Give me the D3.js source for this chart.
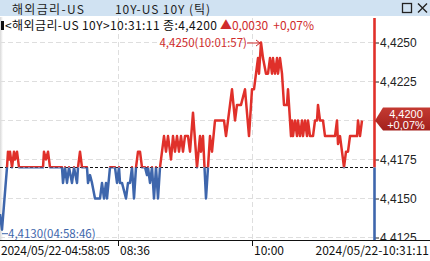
<!DOCTYPE html>
<html>
<head>
<meta charset="utf-8">
<script src="https://cdn.jsdelivr.net/npm/d3@7"></script>
<style>
  html, body { margin: 0; padding: 0; background: #fff; }
  svg { display: block; font-family: "Noto Sans CJK KR", "Noto Sans", sans-serif; }
</style>
</head>
<body>
<svg id="chart" width="430" height="261"></svg>
<script>
// tick sequence number (vertices of the tick line) and price at that tick
var tickNo = [0, 2, 7, 8, 9, 10, 12, 14, 15, 17, 19, 43, 44, 46, 48, 50, 62, 63, 65, 67,
    69, 72, 74, 77, 78, 80, 82, 87, 88, 90, 92, 95, 100, 102, 104, 106, 107, 110, 115, 117,
    119, 120, 122, 126, 128, 130, 132, 134, 136, 138, 140, 142, 145, 147, 148, 150, 152, 154, 156, 158,
    160, 162, 164, 166, 168, 170, 171, 173, 175, 177, 179, 181, 183, 185, 188, 190, 193, 197, 200, 201,
    203, 206, 210, 212, 215, 224, 226, 228, 232, 235, 237, 241, 245, 249, 252, 254, 256, 258, 259, 261,
    263, 266, 268, 270, 272, 273, 275, 277, 278, 280, 282, 284, 287, 288, 289, 291, 292, 293, 295, 297,
    298, 300, 302, 303, 305, 307, 308, 310, 313, 315, 317, 318, 320, 323, 325, 335, 337, 338, 340, 342,
    344, 346, 348, 350, 357, 358, 360, 362];
var price = [4.4140, 4.4130, 4.4170, 4.4180, 4.4175, 4.4180, 4.4170, 4.4180, 4.4175, 4.4180, 4.4170, 4.4170, 4.4180, 4.4175, 4.4180, 4.4170, 4.4170, 4.4160, 4.4170, 4.4160,
    4.4170, 4.4160, 4.4170, 4.4160, 4.4170, 4.4180, 4.4170, 4.4170, 4.4160, 4.4165, 4.4160, 4.4150, 4.4150, 4.4160, 4.4150, 4.4160, 4.4150, 4.4170, 4.4170, 4.4160,
    4.4170, 4.4160, 4.4160, 4.4150, 4.4160, 4.4160, 4.4170, 4.4150, 4.4170, 4.4180, 4.4180, 4.4170, 4.4170, 4.4165, 4.4170, 4.4160, 4.4170, 4.4150, 4.4170, 4.4150,
    4.4170, 4.4180, 4.4190, 4.4180, 4.4190, 4.4180, 4.4175, 4.4190, 4.4180, 4.4190, 4.4180, 4.4190, 4.4180, 4.4190, 4.4190, 4.4180, 4.4205, 4.4170, 4.4190, 4.4180,
    4.4190, 4.4150, 4.4190, 4.4180, 4.4200, 4.4200, 4.4190, 4.4200, 4.4220, 4.4200, 4.4210, 4.4210, 4.4220, 4.4190, 4.4220, 4.4220, 4.4230, 4.4240, 4.4230, 4.4250,
    4.4240, 4.4230, 4.4230, 4.4240, 4.4230, 4.4240, 4.4230, 4.4240, 4.4230, 4.4240, 4.4230, 4.4210, 4.4210, 4.4220, 4.4210, 4.4190, 4.4200, 4.4190, 4.4200, 4.4190,
    4.4200, 4.4190, 4.4200, 4.4190, 4.4200, 4.4190, 4.4200, 4.4190, 4.4190, 4.4200, 4.4200, 4.4210, 4.4200, 4.4200, 4.4190, 4.4190, 4.4200, 4.4185, 4.4190, 4.4180,
    4.4170, 4.4180, 4.4180, 4.4190, 4.4190, 4.4200, 4.4190, 4.4200];

var prevClose = 4.4170;
var lastPrice = 4.4200;
var yTicks = [4.4125, 4.4150, 4.4175, 4.4200, 4.4225, 4.4250];
var xTickNo = [118, 252];
var xTickLabels = ["08:36", "10:00"];
var startLabel = "2024/05/22-04:58:05";
var endLabel = "2024/05/22-10:31:11";
var highLabel = "4,4250(10:01:57)";
var lowLabel = "4,4130(04:58:46)";

var red = "#e0302a", blue = "#3e66ac", redText = "#d02c2c";
var svg = d3.select("#chart");
var defs = svg.append("defs");
var plotL = 0, plotR = 374, plotT = 18, plotB = 240;

var x = d3.scaleLinear().domain([0, 374]).range([plotL, plotR]);
var y = d3.scaleLinear().domain([4.4125, 4.4250]).range([237.5, 42.5]);
var comma = function (v) { return d3.format(".4f")(v).replace(".", ","); };

// title bar
svg.append("rect").attr("x", 0).attr("y", 0).attr("width", 430).attr("height", 16).attr("fill", "#d0e2f2");
svg.append("text").attr("x", 12).attr("y", 13.5).attr("font-size", 12).attr("fill", "#222")
    .attr("textLength", 72).text("해외금리-US");
svg.append("text").attr("x", 115).attr("y", 13.5).attr("font-size", 12).attr("fill", "#222")
    .attr("textLength", 95).text("10Y-US 10Y (틱)");
svg.append("rect").attr("x", 402.5).attr("y", 3.5).attr("width", 9).attr("height", 9)
    .attr("fill", "none").attr("stroke", "#222").attr("stroke-width", 1.3);
svg.append("path").attr("d", "M418,3.5L427,12.5M427,3.5L418,12.5").attr("stroke", "#222").attr("stroke-width", 1.4);

// left shadow
var grad = defs.append("linearGradient").attr("id", "shade");
grad.append("stop").attr("offset", 0).attr("stop-color", "#d8d8d8");
grad.append("stop").attr("offset", 1).attr("stop-color", "#fff");
svg.append("rect").attr("x", 0).attr("y", 17).attr("width", 3).attr("height", 223).attr("fill", "url(#shade)");

// grid
svg.append("g").selectAll("line").data(yTicks).join("line")
    .attr("x1", plotL).attr("x2", plotR).attr("y1", d => y(d)).attr("y2", d => y(d))
    .attr("stroke", "#dedede").attr("stroke-dasharray", "5,3");
svg.append("g").selectAll("line").data(xTickNo).join("line")
    .attr("x1", d => x(d) + 0.5).attr("x2", d => x(d) + 0.5).attr("y1", plotT).attr("y2", plotB)
    .attr("stroke", "#dedede").attr("stroke-dasharray", "5,3");

// info line
svg.append("rect").attr("x", 1).attr("y", 21).attr("width", 3).attr("height", 9).attr("fill", "#111");
svg.append("text").attr("x", 5).attr("y", 30).attr("font-size", 12).attr("fill", "#111")
    .attr("textLength", 212).text("<해외금리-US 10Y>10:31:11 종:" + comma(lastPrice));
svg.append("text").attr("x", 220).attr("y", 30).attr("font-size", 12).attr("fill", redText)
    .attr("textLength", 94).attr("xml:space", "preserve")
    .text("▲" + comma(lastPrice - prevClose) + "  +0,07%");

// previous close line
var baseY = Math.round(y(prevClose)) + 0.5;
svg.append("line").attr("x1", plotL).attr("x2", plotR).attr("y1", baseY).attr("y2", baseY)
    .attr("stroke", "#111").attr("stroke-dasharray", "3,2");

// clips: red above previous close, blue below, axis labels above the x axis
defs.append("clipPath").attr("id", "above").append("rect")
    .attr("x", 0).attr("y", 0).attr("width", 430).attr("height", baseY);
defs.append("clipPath").attr("id", "below").append("rect")
    .attr("x", 0).attr("y", baseY).attr("width", 430).attr("height", 261 - baseY);
defs.append("clipPath").attr("id", "axisclip").append("rect")
    .attr("x", -10).attr("y", 0).attr("width", 80).attr("height", plotB);

var pts = tickNo.map(function (t, i) { return [t, price[i]]; });
var line = d3.line().x(d => x(d[0])).y(d => y(d[1]));
svg.append("path").datum(pts).attr("d", line).attr("fill", "none").attr("stroke", red)
    .attr("stroke-width", 2.5).attr("stroke-linejoin", "round").attr("clip-path", "url(#above)");
svg.append("path").datum(pts).attr("d", line).attr("fill", "none").attr("stroke", blue)
    .attr("stroke-width", 2.5).attr("stroke-linejoin", "round").attr("clip-path", "url(#below)");

// right axis (label under the price tag is hidden by the tag)
var yAxis = d3.axisRight(y).tickValues(yTicks).tickSize(4).tickPadding(1)
    .tickFormat(d => Math.abs(d - lastPrice) < 0.0008 ? "" : comma(d));
var ag = svg.append("g").attr("transform", "translate(" + (plotR + 1) + ",0)")
    .attr("clip-path", "url(#axisclip)").call(yAxis);
ag.select(".domain").remove();
ag.selectAll("line").attr("stroke", "#222");
ag.selectAll("text").attr("font-size", 12).attr("fill", "#222").attr("font-family", "inherit");
svg.append("line").attr("x1", plotR + 0.5).attr("x2", plotR + 0.5).attr("y1", plotT).attr("y2", baseY)
    .attr("stroke", red).attr("stroke-width", 2.6);
svg.append("line").attr("x1", plotR + 0.5).attr("x2", plotR + 0.5).attr("y1", baseY).attr("y2", plotB)
    .attr("stroke", blue).attr("stroke-width", 2.6);

// x axis
svg.append("line").attr("x1", 0).attr("x2", 430).attr("y1", plotB + 0.5).attr("y2", plotB + 0.5).attr("stroke", "#111");
svg.append("g").selectAll("line").data(xTickNo).join("line")
    .attr("x1", d => x(d) + 0.5).attr("x2", d => x(d) + 0.5).attr("y1", plotB).attr("y2", plotB + 6).attr("stroke", "#111");
svg.append("g").selectAll("text").data(xTickNo).join("text")
    .attr("x", d => x(d) + 2).attr("y", 255).attr("font-size", 12).attr("fill", "#111")
    .text((d, i) => xTickLabels[i]);
svg.append("text").attr("x", 1).attr("y", 255).attr("font-size", 12).attr("fill", "#111")
    .attr("textLength", 109).text(startLabel);
svg.append("text").attr("x", 429).attr("y", 255).attr("font-size", 12).attr("fill", "#111")
    .attr("text-anchor", "end").text(endLabel);

// high / low annotations
var hiI = price.indexOf(d3.max(price)), loI = price.indexOf(d3.min(price));
var hx = x(tickNo[hiI]), hy = y(price[hiI]);
svg.append("text").attr("x", hx - 14).attr("y", hy + 4).attr("text-anchor", "end")
    .attr("font-size", 11.5).attr("fill", redText).text(highLabel);
svg.append("path").attr("d", "M" + (hx - 14) + "," + (hy + 0.5) + "H" + (hx - 1) + "M" + (hx - 5) + "," + (hy - 2.5) + "L" + (hx - 1) + "," + (hy + 0.5) + "L" + (hx - 5) + "," + (hy + 3.5))
    .attr("fill", "none").attr("stroke", redText).attr("stroke-width", 1);
var lx = x(tickNo[loI]), ly = y(price[loI]);
svg.append("line").attr("x1", lx).attr("x2", lx + 6).attr("y1", ly + 4).attr("y2", ly + 4).attr("stroke", blue);
svg.append("text").attr("x", lx + 6).attr("y", ly + 8.5).attr("font-size", 11.5).attr("fill", blue).text(lowLabel);

// current price tag
var py = y(lastPrice);
var tagGrad = defs.append("linearGradient").attr("id", "tag").attr("x1", 0).attr("x2", 0).attr("y1", 0).attr("y2", 1);
tagGrad.append("stop").attr("offset", 0).attr("stop-color", "#c43a32");
tagGrad.append("stop").attr("offset", 1).attr("stop-color", "#a3201c");
svg.append("path").attr("d", "M" + (plotR + 1) + "," + py + "L" + (plotR + 9) + "," + (py - 13) + "H430V" + (py + 10) + "H" + (plotR + 9) + "Z")
    .attr("fill", "url(#tag)");
var tag = svg.append("text").attr("text-anchor", "middle").attr("font-size", 11)
    .attr("font-family", "'Liberation Sans', Arial, sans-serif").attr("fill", "#fff");
tag.append("tspan").attr("x", 406).attr("y", py - 2.5).text(comma(lastPrice));
tag.append("tspan").attr("x", 406).attr("y", py + 8.5).text("+0,07%");
</script>
</body>
</html>
